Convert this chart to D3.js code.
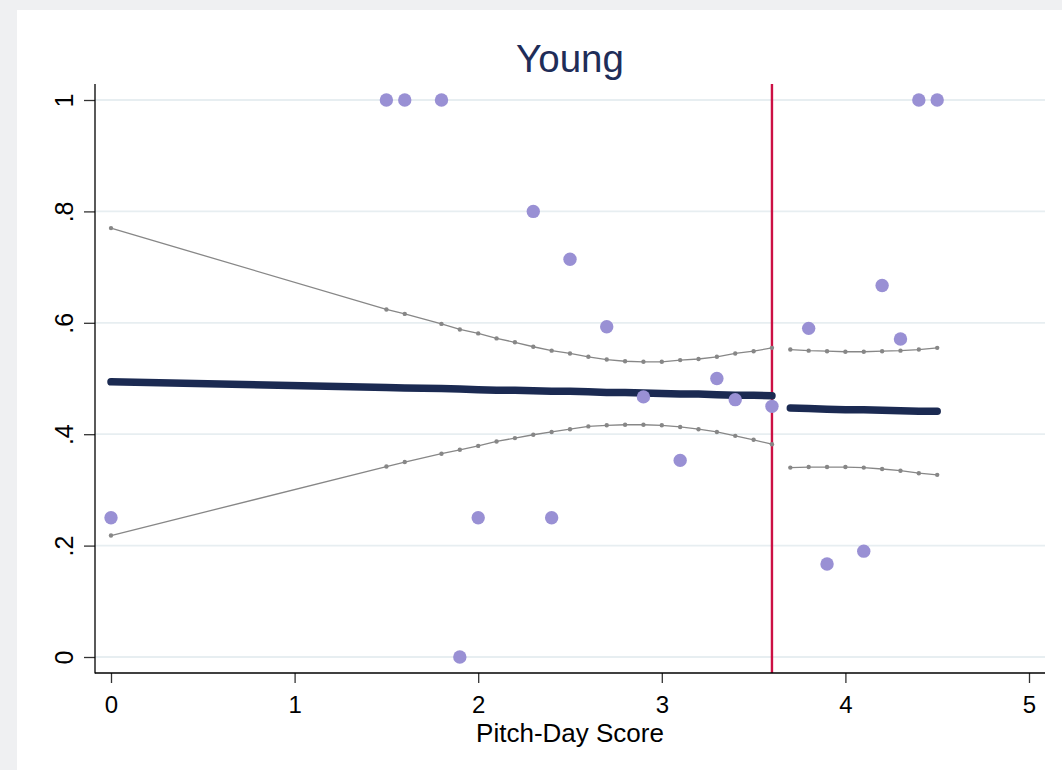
<!DOCTYPE html>
<html>
<head>
<meta charset="utf-8">
<script src="https://cdn.jsdelivr.net/npm/d3@7"></script>
<style>
  html, body { margin: 0; padding: 0; background: #eff0f2; }
  svg { display: block; }
  text { font-family: "Liberation Sans", Arial, sans-serif; }
</style>
</head>
<body>
<svg id="chart" width="1062" height="770"></svg>
<script>
// Observations: pitch-day score vs share
const obsX = [0, 1.5, 1.6, 1.8, 1.9, 2.0, 2.3, 2.4, 2.5, 2.7, 2.9, 3.1, 3.3, 3.4, 3.6, 3.8, 3.9, 4.1, 4.2, 4.3, 4.4, 4.5];
const obsY = [0.25, 1, 1, 1, 0, 0.25, 0.8, 0.25, 0.714, 0.593, 0.467, 0.353, 0.5, 0.462, 0.45, 0.59, 0.167, 0.19, 0.667, 0.571, 1, 1];

// Linear fit with 95% CI, below the cutoff
const leftX = [0, 1.5, 1.6, 1.8, 1.9, 2.0, 2.1, 2.2, 2.3, 2.4, 2.5, 2.6, 2.7, 2.8, 2.9, 3.0, 3.1, 3.2, 3.3, 3.4, 3.5, 3.6];
const leftFit = [0.494, 0.484, 0.483, 0.482, 0.481, 0.480, 0.479, 0.479, 0.478, 0.477, 0.477, 0.476, 0.475, 0.475, 0.474, 0.473, 0.472, 0.472, 0.471, 0.470, 0.470, 0.469];
const leftHi = [0.770, 0.624, 0.616, 0.598, 0.588, 0.581, 0.572, 0.565, 0.557, 0.550, 0.545, 0.539, 0.534, 0.531, 0.530, 0.530, 0.533, 0.535, 0.539, 0.545, 0.549, 0.555];
const leftLo = [0.218, 0.342, 0.350, 0.365, 0.372, 0.379, 0.387, 0.393, 0.399, 0.404, 0.409, 0.414, 0.416, 0.417, 0.417, 0.416, 0.413, 0.409, 0.404, 0.397, 0.390, 0.382];

// Linear fit with 95% CI, above the cutoff
const rightX = [3.7, 3.8, 3.9, 4.0, 4.1, 4.2, 4.3, 4.4, 4.5];
const rightFit = [0.447, 0.446, 0.445, 0.444, 0.444, 0.443, 0.442, 0.441, 0.441];
const rightHi = [0.552, 0.550, 0.549, 0.548, 0.548, 0.549, 0.550, 0.552, 0.555];
const rightLo = [0.340, 0.341, 0.341, 0.341, 0.340, 0.3375, 0.3345, 0.330, 0.327];

const cutoff = 3.6;

const xTicks = [0, 1, 2, 3, 4, 5];
const yTicks = [0, 0.2, 0.4, 0.6, 0.8, 1];
const yTickLabels = ["0", ".2", ".4", ".6", ".8", "1"];

const svg = d3.select("#chart");

// white graph region
svg.append("rect").attr("x", 17).attr("y", 10).attr("width", 1045).attr("height", 760).attr("fill", "#ffffff");

const plot = { left: 95, right: 1045, top: 84, bottom: 673 };
const x = d3.scaleLinear().domain([0, 5]).range([111, 1029]);
const y = d3.scaleLinear().domain([0, 1]).range([657, 100]);

// gridlines
svg.append("g").selectAll("line").data(yTicks).join("line")
  .attr("x1", plot.left).attr("x2", plot.right)
  .attr("y1", d => y(d)).attr("y2", d => y(d))
  .attr("stroke", "#e7eef1").attr("stroke-width", 1.8);

// cutoff line
svg.append("line")
  .attr("x1", x(cutoff)).attr("x2", x(cutoff))
  .attr("y1", plot.top).attr("y2", plot.bottom)
  .attr("stroke", "#cc1044").attr("stroke-width", 2.4);

function drawCI(xs, vals) {
  const pts = xs.map((d, i) => [d, vals[i]]);
  const line = d3.line().x(d => x(d[0])).y(d => y(d[1]));
  svg.append("path").attr("d", line(pts)).attr("fill", "none")
    .attr("stroke", "#878787").attr("stroke-width", 1.3);
  svg.append("g").selectAll("circle").data(pts).join("circle")
    .attr("cx", d => x(d[0])).attr("cy", d => y(d[1])).attr("r", 2.2)
    .attr("fill", "#878787");
}

function drawFit(xs, vals) {
  const pts = xs.map((d, i) => [d, vals[i]]);
  const line = d3.line().x(d => x(d[0])).y(d => y(d[1]));
  svg.append("path").attr("d", line(pts)).attr("fill", "none")
    .attr("stroke", "#1b2a52").attr("stroke-width", 7.5)
    .attr("stroke-linecap", "round").attr("stroke-linejoin", "round");
}

drawCI(leftX, leftHi);
drawCI(leftX, leftLo);
drawCI(rightX, rightHi);
drawCI(rightX, rightLo);
drawFit(leftX, leftFit);
drawFit(rightX, rightFit);

// observations
svg.append("g").selectAll("circle").data(obsX.map((d, i) => [d, obsY[i]])).join("circle")
  .attr("cx", d => x(d[0])).attr("cy", d => y(d[1])).attr("r", 6.7)
  .attr("fill", "#9990d4");

// axes
const yAxis = d3.axisLeft(y).tickValues(yTicks).tickSize(11).tickSizeOuter(0)
  .tickFormat((d, i) => yTickLabels[i]);
const gy = svg.append("g").attr("transform", `translate(${plot.left},0)`).call(yAxis);
gy.select(".domain").remove();
gy.selectAll(".tick line").attr("stroke", "#333").attr("stroke-width", 1.3);
gy.selectAll(".tick text")
  .attr("x", null).attr("dy", null)
  .attr("transform", "translate(-22,0) rotate(-90)")
  .attr("text-anchor", "middle")
  .attr("font-size", 25).attr("fill", "#000")
  .attr("font-family", "Liberation Sans, Arial, sans-serif");

const xAxis = d3.axisBottom(x).tickValues(xTicks).tickSize(10).tickSizeOuter(0)
  .tickFormat(d3.format("d"));
const gx = svg.append("g").attr("transform", `translate(0,${plot.bottom})`).call(xAxis);
gx.select(".domain").remove();
gx.selectAll(".tick line").attr("stroke", "#333").attr("stroke-width", 1.3);
gx.selectAll(".tick text")
  .attr("y", 40).attr("dy", null)
  .attr("font-size", 24).attr("fill", "#000")
  .attr("font-family", "Liberation Sans, Arial, sans-serif");

// axis lines
svg.append("line").attr("x1", plot.left).attr("x2", plot.left)
  .attr("y1", plot.top).attr("y2", plot.bottom + 0.6)
  .attr("stroke", "#000").attr("stroke-width", 1.3);
svg.append("line").attr("x1", plot.left).attr("x2", plot.right)
  .attr("y1", plot.bottom).attr("y2", plot.bottom)
  .attr("stroke", "#000").attr("stroke-width", 1.3);

// axis title
svg.append("text").attr("x", (plot.left + plot.right) / 2).attr("y", 742)
  .attr("text-anchor", "middle").attr("font-size", 26).attr("fill", "#000")
  .text("Pitch-Day Score");

// title
svg.append("text").attr("x", (plot.left + plot.right) / 2).attr("y", 72)
  .attr("text-anchor", "middle").attr("font-size", 38.5).attr("fill", "#1f2d58")
  .text("Young");
</script>
</body>
</html>
